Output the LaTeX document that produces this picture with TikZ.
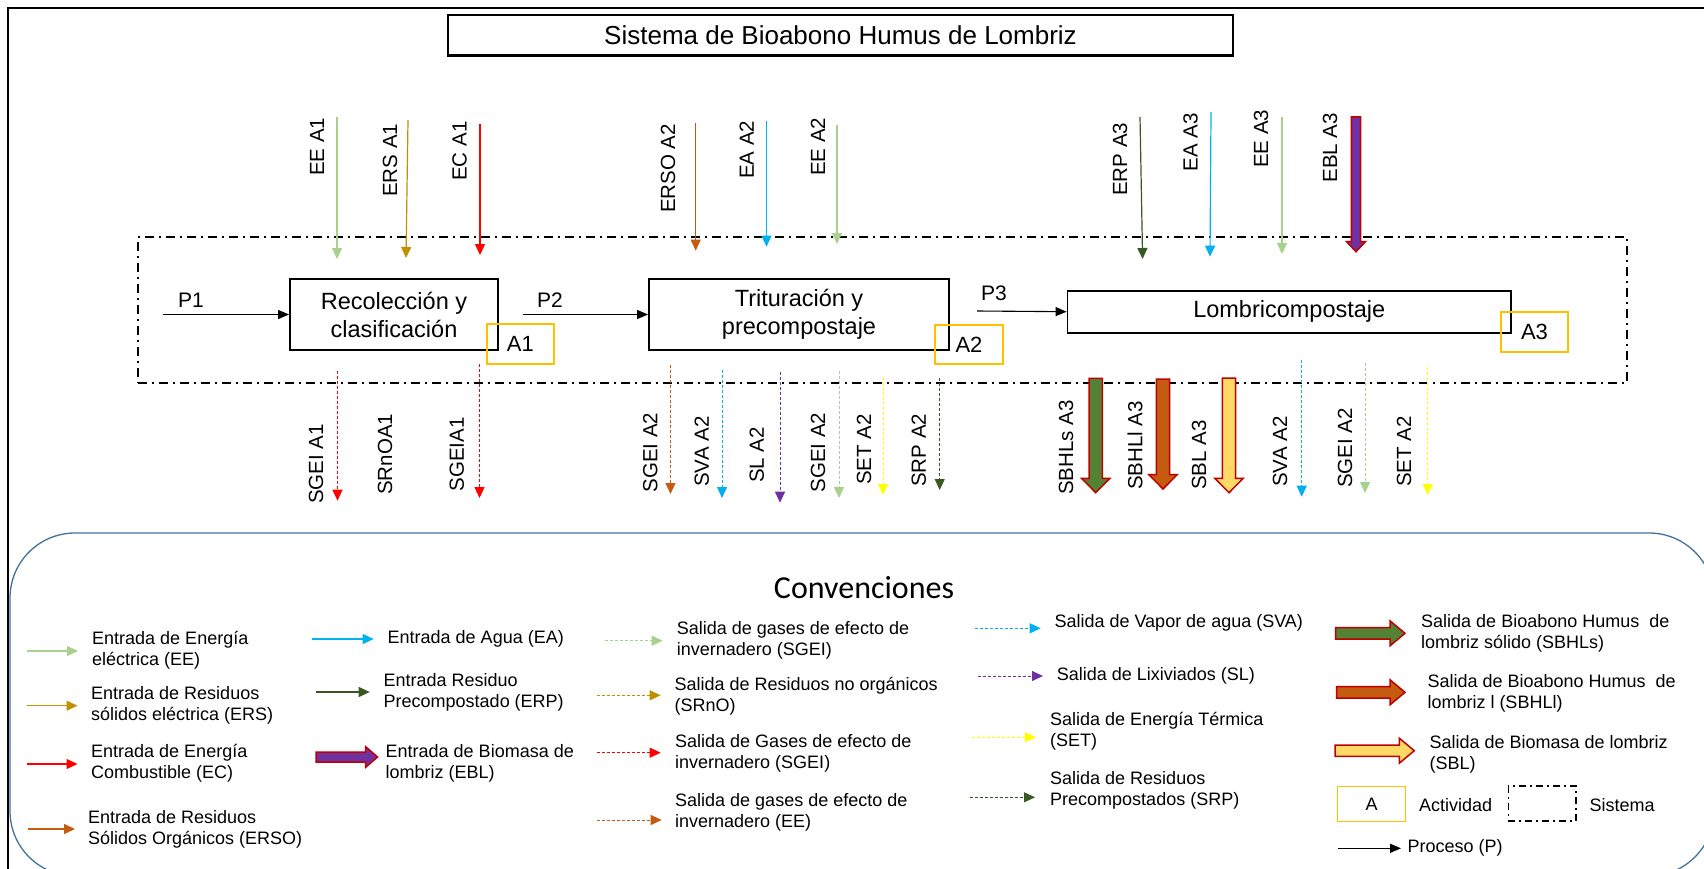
\documentclass[tikz,border=0pt]{standalone}
\usepackage{fontspec}
\setmainfont{Liberation Sans}
\newfontfamily\calibfont{Carlito}
\usetikzlibrary{arrows.meta}
\definecolor{cEE}{HTML}{A9D18E}
\definecolor{cERS}{HTML}{BF9000}
\definecolor{cEC}{HTML}{FF0000}
\definecolor{cERSO}{HTML}{C55A11}
\definecolor{cEA}{HTML}{00B0F0}
\definecolor{cERP}{HTML}{385723}
\definecolor{cSL}{HTML}{7030A0}
\definecolor{cSET}{HTML}{FFFF00}
\definecolor{cBord}{HTML}{C00000}
\definecolor{cGreenF}{HTML}{548235}
\definecolor{cBrownF}{HTML}{C55A11}
\definecolor{cYellF}{HTML}{FFD966}
\definecolor{cPurF}{HTML}{7030A0}
\definecolor{cAct}{HTML}{FFC000}
\definecolor{cLeg}{HTML}{41719C}
\newcommand{\vblockarrow}[7]{%
  \draw[blk, fill=#7] ({#1-#4},#2) -- ({#1+#4},#2) -- ({#1+#4},{#3-#6}) -- ({#1+#5},{#3-#6}) -- (#1,#3) -- ({#1-#5},{#3-#6}) -- ({#1-#4},{#3-#6}) -- cycle;}
\newcommand{\hblockarrow}[7]{%
  \draw[blk, fill=#7] (#1,{#2-#4}) -- ({#3-#6},{#2-#4}) -- ({#3-#6},{#2-#5}) -- (#3,#2) -- ({#3-#6},{#2+#5}) -- ({#3-#6},{#2+#4}) -- (#1,{#2+#4}) -- cycle;}
\tikzset{
  inarr/.style={line width=1.2pt, -{Triangle[length=11pt,width=10pt]}},
  outarr/.style={line width=1pt, dash pattern=on 3pt off 2pt, -{Triangle[length=11pt,width=10pt]}},
  procarr/.style={line width=1.1pt, black, -{Triangle[length=11pt,width=9pt]}},
  actbox/.style={draw, line width=1.8pt, inner sep=0, align=center, font=\fontsize{23.5pt}{28pt}\selectfont},
  abox/.style={draw=cAct, line width=1.8pt, inner sep=0, font=\fontsize{22pt}{26pt}\selectfont},
  vlab/.style={rotate=90, anchor=west, inner sep=0, font=\fontsize{20.5pt}{24pt}\selectfont},
  plab/.style={inner sep=0, font=\fontsize{21pt}{24pt}\selectfont},
  legtxt/.style={anchor=west, align=left, inner sep=0, font=\fontsize{18pt}{21pt}\selectfont},
  sysline/.style={line width=1.8pt, dash pattern=on 9pt off 5pt on 2pt off 5pt},
  blk/.style={draw=cBord, line width=1.5pt, line join=miter},
}
\begin{document}
\begin{tikzpicture}[x=1pt, y=-1pt]
\useasboundingbox (0,0) rectangle (1704,869);
% outer frame
\draw[line width=2.5pt] (8,869) -- (8,8) -- (1704,8);
% title
\node[draw, line width=1.2pt, minimum width=785pt, minimum height=40pt, inner sep=0,
      font=\fontsize{26pt}{30pt}\selectfont] (title) at (840.5,35) {Sistema de Bioabono Humus de Lombriz};
\draw[line width=2.5pt] (title.south west) -- (title.south east);
% system boundary
\node[draw, sysline, minimum width=1489pt, minimum height=146pt, inner sep=0] (sys) at (882.5,310) {};
% activity boxes
\node[actbox, minimum width=208pt, minimum height=71pt] (b1) at (394,314.5) {Recolección y\\clasificación};
\node[actbox, minimum width=300pt, minimum height=71pt] (b2) at (799,314.5) {Trituración y\\precompostaje};
\node[actbox, minimum width=443.5pt, minimum height=42pt] (b3) at (1289.25,311.7) {Lombricompostaje};
\node[abox, minimum width=67.4pt, minimum height=40pt] (a1) at (520.3,344) {A1};
\node[abox, minimum width=68pt, minimum height=39pt] (a2) at (969,344.5) {A2};
\node[abox, minimum width=67pt, minimum height=40pt] (a3) at (1534.5,332) {A3};
% processes
\coordinate (p1s) at (163,314.5);
\coordinate (p2s) at (523,314.5);
\coordinate (p3s) at (977,311);
\draw[procarr] (p1s) -- (b1.west);
\draw[procarr] (p2s) -- (b2.west);
\draw[procarr] (p3s) -- (b3.west);
\node[plab] (p1l) at (191,300) {P1};
\node[plab] (p2l) at (550,300) {P2};
\node[plab] (p3l) at (994,293) {P3};
% input arrows
\foreach \n/\xa/\ya/\xb/\yb/\c in {
  eeA1/337/117/337/259/cEE, ersA1/408/120/406/258/cERS, ecA1/480/124/480/255/cEC,
  ersoA2/695.7/122.7/695.7/250.7/cERSO, eaA2/766.5/120.7/766.5/246.7/cEA, eeA2/837/125/837/244/cEE,
  erpA3/1140/117/1142.6/259/cERP, eaA3/1211/112/1210/256.7/cEA, eeA3/1282/116.7/1282/254/cEE}
{
  \coordinate (\n-s) at (\xa,\ya);
  \coordinate (\n-e) at (\xb,\yb);
  \draw[inarr, color=\c] (\n-s) -- (\n-e);
}
\vblockarrow{1356}{117}{251.7}{4.6}{9.4}{10}{cPurF}
% input labels
\foreach \n/\x/\y/\t in {
  leeA1/317/176/EE A1, lersA1/390/197/ERS A1, lecA1/459.5/181/EC A1,
  lersoA2/668/213/ERSO A2, leaA2/746.6/179/EA A2, leeA2/818/176/EE A2,
  lerpA3/1120/196/ERP A3, leaA3/1190.5/171.7/EA A3, leeA3/1261/168/EE A3, leblA3/1330/182.7/EBL A3}
{ \node[vlab] (\n) at (\x,\y) {\t}; }
% output arrows
\foreach \n/\x/\ya/\yb/\c in {
  sgA1/337.5/370.7/500.7/cEC, sgbA1/479.5/364/498/cEC,
  sgA2/670.5/365/494/cERSO, svaA2/722/370/498/cEA, slA2/780/371.7/502.7/cSL,
  sgcA2/839/370.7/498/cEE, setA2/883/377/495/cSET, srpA2/939.7/378/490/cERP,
  svbA2/1301.7/360/496.7/cEA, sgdA2/1365/363/493/cEE, setbA2/1427.7/366.7/495/cSET}
{
  \coordinate (\n-s) at (\x,\ya);
  \coordinate (\n-e) at (\x,\yb);
  \draw[outarr, color=\c] (\n-s) -- (\n-e);
}
\vblockarrow{1095.7}{378.3}{492.7}{6.7}{14.2}{14.4}{cGreenF}
\vblockarrow{1163}{379}{489}{6.7}{14.2}{14.4}{cBrownF}
\vblockarrow{1229}{378}{492.7}{6.7}{14.2}{14.4}{cYellF}
% output labels
\foreach \n/\x/\y/\t in {
  l1/316/504/SGEI A1, l2/385/495/SRnOA1, l3/456.7/491.7/SGEIA1,
  l4/650.4/492.7/SGEI A2, l5/701.8/487/SVA A2, l6/756.7/483/SL A2,
  l7/818/492.7/SGEI A2, l8/864/485/SET A2, l9/918.7/487/SRP A2,
  l10/1066/495/SBHLs A3, l11/1135/490/SBHLl A3, l12/1199/490/SBL A3,
  l13/1280/487/SVA A2, l14/1345/488/SGEI A2, l15/1404/487/SET A2}
{ \node[vlab] (\n) at (\x,\y) {\t}; }
% legend box
\draw[cLeg, line width=1.3pt, rounded corners=65pt] (10,533) rectangle (1714,876);
\node[inner sep=0, font=\calibfont\fontsize{32pt}{36pt}\selectfont] (conv) at (864,587.7) {Convenciones};
% legend solid arrows
\foreach \n/\xa/\xb/\y/\c in {
  gEE/27/78/651/cEE, gERS/27/77.5/705.7/cERS, gEC/27/77.5/764/cEC, gERSO/27.7/75/829/cERSO,
  gEA/311.6/373.7/639/cEA, gERP/316/369.7/692/cERP}
{
  \coordinate (\n-s) at (\xa,\y);
  \coordinate (\n-e) at (\xb,\y);
  \draw[inarr, color=\c] (\n-s) -- (\n-e);
}
\hblockarrow{316}{757}{377.6}{5}{10.3}{12}{cPurF}
% legend dashed arrows
\foreach \n/\xa/\xb/\y/\c in {
  gSG1/605/662.7/640.7/cEE, gSRnO/596.7/660.7/695.3/cERS, gSG2/596.7/660.7/752.7/cEC, gSG3/596.7/661.7/820/cERSO,
  gSVA/975/1040.7/628.3/cEA, gSL/978/1043/676/cSL, gSET/971.7/1036/737.3/cSET, gSRP/970/1035/797.3/cERP}
{
  \coordinate (\n-s) at (\xa,\y);
  \coordinate (\n-e) at (\xb,\y);
  \draw[outarr, color=\c] (\n-s) -- (\n-e);
}
\hblockarrow{1335.7}{633.3}{1405}{5.7}{12.5}{15}{cGreenF}
\hblockarrow{1336.7}{692.3}{1405}{5.7}{12.5}{15}{cBrownF}
\hblockarrow{1335}{750.7}{1414.3}{5.7}{12.5}{15}{cYellF}
% legend texts
\node[legtxt] (t1) at (92,650.5) {Entrada de Energía\\eléctrica (EE)};
\node[legtxt] (t2) at (91,705) {Entrada de Residuos\\sólidos eléctrica (ERS)};
\node[legtxt] (t3) at (91,763) {Entrada de Energía\\Combustible (EC)};
\node[legtxt] (t4) at (87.8,829) {Entrada de Residuos\\Sólidos Orgánicos (ERSO)};
\node[legtxt] (t5) at (387.5,639) {Entrada de Agua (EA)};
\node[legtxt] (t6) at (383.5,692.2) {Entrada Residuo\\Precompostado (ERP)};
\node[legtxt] (t7) at (385.5,763) {Entrada de Biomasa de\\lombriz (EBL)};
\node[legtxt] (t8) at (676.7,640.7) {Salida de gases de efecto de\\invernadero (SGEI)};
\node[legtxt] (t9) at (674.3,695.8) {Salida de Residuos no orgánicos\\(SRnO)};
\node[legtxt] (t10) at (675,753.3) {Salida de Gases de efecto de\\invernadero (SGEI)};
\node[legtxt] (t11) at (675,812.5) {Salida de gases de efecto de\\invernadero (EE)};
\node[legtxt] (t12) at (1054.3,623.3) {Salida de Vapor de agua (SVA)};
\node[legtxt] (t13) at (1056.7,676) {Salida de Lixiviados (SL)};
\node[legtxt] (t14) at (1050,731) {Salida de Energía Térmica\\(SET)};
\node[legtxt] (t15) at (1050,790) {Salida de Residuos\\Precompostados (SRP)};
\node[legtxt] (t16) at (1421,633.8) {Salida de Bioabono Humus\ \ de\\lombriz sólido (SBHLs)};
\node[legtxt] (t17) at (1427.3,693.8) {Salida de Bioabono Humus\ \ de\\lombriz l (SBHLl)};
\node[legtxt] (t18) at (1429.3,754) {Salida de Biomasa de lombriz\\(SBL)};
\node[draw=cAct, line width=1.5pt, minimum width=68.4pt, minimum height=35pt, inner sep=0,
      font=\fontsize{18pt}{21pt}\selectfont] (gA) at (1371.5,804.2) {A};
\node[legtxt] (t19) at (1419,805) {Actividad};
\node[draw, line width=1.5pt, dash pattern=on 7pt off 4pt on 2pt off 4pt, minimum width=67.7pt, minimum height=35pt, inner sep=0] (gSys) at (1542.2,803.5) {};
\node[legtxt] (t20) at (1589.3,805) {Sistema};
\coordinate (gP-s) at (1338.3,848.3);
\coordinate (gP-e) at (1401,848.3);
\draw[procarr] (gP-s) -- (gP-e);
\node[legtxt] (t21) at (1407.3,848.3) {Proceso (P)};
\end{tikzpicture}
\end{document}
